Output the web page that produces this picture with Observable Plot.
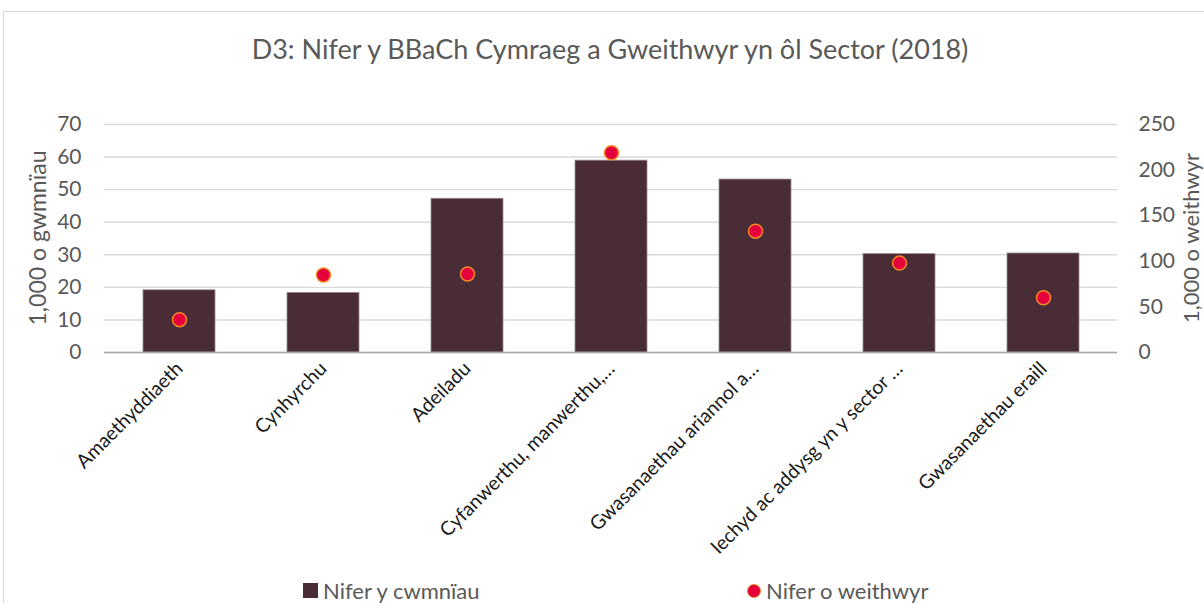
<!DOCTYPE html>
<html>
<head>
<meta charset="utf-8">
<script src="https://cdn.jsdelivr.net/npm/d3@7"></script>
<script src="https://cdn.jsdelivr.net/npm/@observablehq/plot@0.6"></script>
<style>
  html, body { margin: 0; padding: 0; background: #fff; }
  #wrap { position: relative; width: 1204px; height: 603px; overflow: hidden; font-family: Lato, "Open Sans", sans-serif; }
  .frame { position: absolute; left: 3px; top: 11px; width: 1400px; height: 800px; border-left: 1.5px solid #d9d9d9; border-top: 1.5px solid #d9d9d9; }
  #title { position: absolute; left: 0; width: 1220px; top: 32px; text-align: center; font-size: 27px; color: #595959; }
  #chart { position: absolute; left: 0; top: 0; }
  .ylab { position: absolute; font-size: 23px; color: #595959; white-space: nowrap; transform: translate(-50%, -50%) rotate(-90deg); }
  .legend { position: absolute; top: 577px; font-size: 22px; color: #595959; display: flex; align-items: center; white-space: nowrap; }
  .sw-sq { width: 15px; height: 15px; background: #4a2c37; margin-right: 5px; }
  .sw-dot { width: 12px; height: 12px; border-radius: 50%; background: #e4003b; border: 1.5px solid #f0882a; margin-right: 5px; }
</style>
</head>
<body>
<div id="wrap">
  <div class="frame"></div>
  <div id="title">D3: Nifer y BBaCh Cymraeg a Gweithwyr yn ôl Sector (2018)</div>
  <div id="chart"></div>
  <div class="ylab" style="left:37px; top:238px;">1,000 o gwmnïau</div>
  <div class="ylab" style="left:1190px; top:238px; font-size:22px;">1,000 o weithwyr</div>
  <div class="legend" style="left:303px;"><div class="sw-sq"></div>Nifer y cwmnïau</div>
  <div class="legend" style="left:747px;"><div class="sw-dot"></div>Nifer o weithwyr</div>
</div>
<script>
const categories = [
  "Amaethyddiaeth",
  "Cynhyrchu",
  "Adeiladu",
  "Cyfanwerthu, manwerthu,…",
  "Gwasanaethau ariannol a…",
  "Iechyd ac addysg yn y sector …",
  "Gwasanaethau eraill"
];
const companies = [19.1, 18.3, 47.2, 58.9, 53.1, 30.2, 30.4];   // 1,000 o gwmnïau (left axis)
const workers = [36, 85, 86, 219, 133, 98, 60];                  // 1,000 o weithwyr (right axis)
const leftTicks = [0, 10, 20, 30, 40, 50, 60, 70];
const rightTicks = [0, 50, 100, 150, 200, 250];

const leftMax = 70, rightMax = 250;
const toLeft = v => v * leftMax / rightMax;

const data = categories.map((c, i) => ({cat: c, companies: companies[i], workers: workers[i]}));

const chart = Plot.plot({
  width: 1204,
  height: 603,
  marginTop: 124,
  marginBottom: 251,
  marginLeft: 104,
  marginRight: 87,
  style: {fontFamily: "Lato, 'Open Sans', sans-serif", background: "transparent"},
  x: {domain: categories, paddingInner: 0.5, paddingOuter: 0.25, label: null},
  y: {domain: [0, leftMax], label: null},
  marks: [
    Plot.gridY(leftTicks, {stroke: "#d9d9d9", strokeOpacity: 1, strokeWidth: 1.4}),
    Plot.barY(data, {x: "cat", y: "companies", fill: "#4a2c37", stroke: "#9b8a91", strokeWidth: 0.8}),
    Plot.ruleY([0], {stroke: "#a6a6a6", strokeWidth: 1.5}),
    Plot.dot(data, {x: "cat", y: d => toLeft(d.workers), r: 7, fill: "#e4003b", stroke: "#f0882a", strokeWidth: 1.5}),
    Plot.axisY(leftTicks, {anchor: "left", tickSize: 0, tickPadding: 23, fontSize: 21, color: "#595959", label: null}),
    Plot.axisY(rightTicks.map(toLeft), {anchor: "right", tickSize: 0, tickPadding: 21, fontSize: 21, color: "#595959", label: null,
      tickFormat: d => String(Math.round(d * rightMax / leftMax))}),
    Plot.axisX({tickRotate: -45, tickSize: 0, tickPadding: 13, fontSize: 19.5, color: "#1a1a1a", label: null})
  ]
});
document.getElementById("chart").appendChild(chart);
</script>
</body>
</html>
